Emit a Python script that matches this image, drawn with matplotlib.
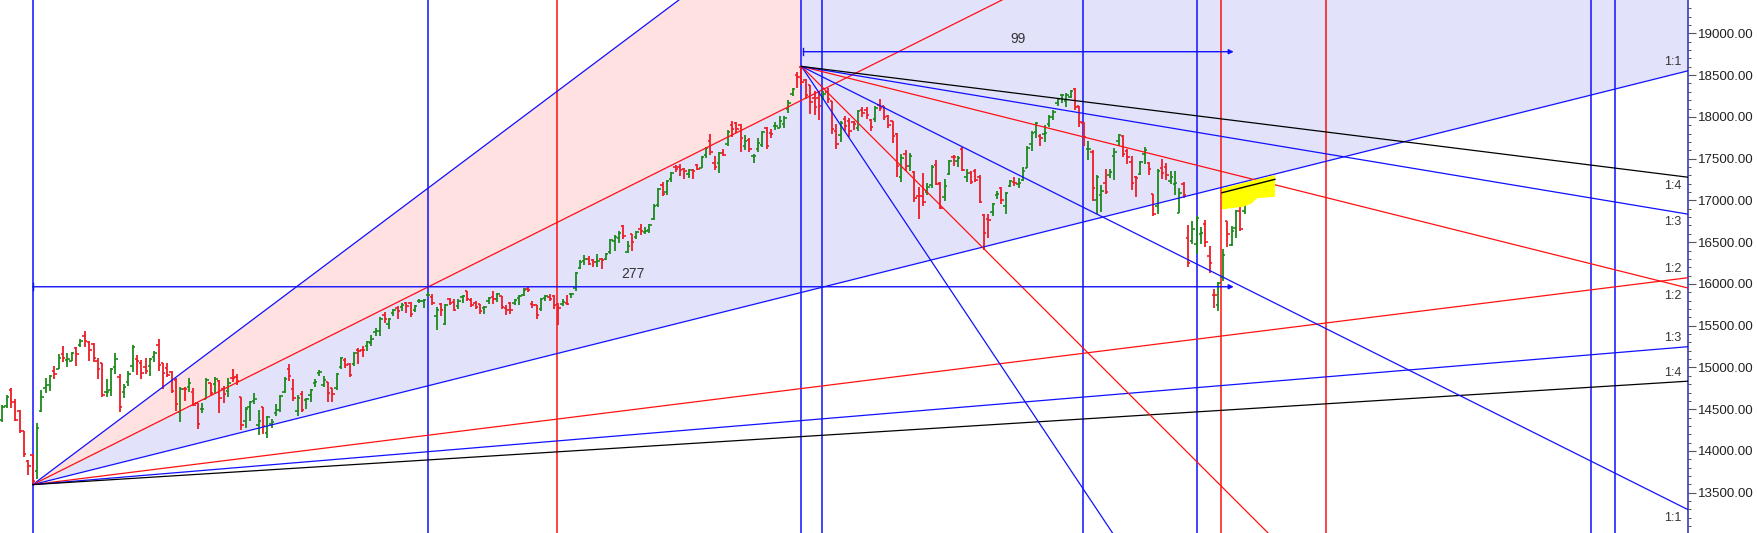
import numpy as np
import matplotlib.pyplot as plt
from matplotlib.ticker import MultipleLocator, FormatStrFormatter

plt.rcParams['font.family'] = ['Liberation Sans', 'DejaVu Sans']

# daily OHLC, first bar is 7 bars before the swing low (bar 0)
first_bar = -7
opens = [14371, 14539, 14730, 14590, 14477, 14237, 13880, 13946, 13759, 14481,
         14754, 14789, 14952, 14983, 15164, 15094, 15082, 15228, 15271, 15372,
         15308, 15284, 15074, 15058, 14707, 14730, 15006, 14889, 14702, 14831,
         15023, 15105, 15055, 15004, 15016, 15128, 15267, 15048, 14996, 14946,
         14855, 14471, 14737, 14768, 14712, 14570, 14506, 14628, 14811, 14798,
         14837, 14737, 14716, 14875, 14882, 14644, 14364, 14522, 14599, 14306,
         14526, 14219, 14326, 14449, 14493, 14710, 14979, 14747, 14481, 14688,
         14605, 14669, 14816, 14928, 14789, 14824, 14749, 14756, 15007, 15089,
         15042, 15042, 15211, 15210, 15257, 15291, 15422, 15437, 15629, 15520,
         15655, 15712, 15725, 15773, 15766, 15692, 15796, 15791, 15867, 15847,
         15612, 15757, 15525, 15814, 15783, 15737, 15839, 15916, 15807, 15776,
         15755, 15706, 15793, 15839, 15819, 15856, 15711, 15767, 15766, 15835,
         15872, 15944, 15755, 15746, 15701, 15831, 15847, 15860, 15761, 15763,
         15776, 15875, 15951, 16196, 16280, 16304, 16288, 16265, 16303, 16303,
         16385, 16518, 16545, 16691, 16382, 16592, 16561, 16655, 16627, 16643,
         16775, 16947, 17185, 17096, 17262, 17400, 17401, 17375, 17313, 17363,
         17420, 17388, 17540, 17710, 17444, 17450, 17570, 17670, 17897, 17932,
         17906, 17657, 17718, 17531, 17616, 17661, 17861, 17810, 17886, 17867,
         17915, 18097, 18273, 18500, 18602, 18439, 18383, 18230, 18230, 18217,
         18299, 18189, 17833, 17784, 17970, 17947, 17935, 17867, 18085, 18084,
         17967, 17977, 18141, 18128, 18011, 17949, 17796, 17281, 17550, 17417,
         17339, 17056, 17051, 17104, 17183, 17424, 17210, 17044, 17315, 17524,
         17476, 17619, 17283, 17324, 17348, 17277, 16824, 16773, 16865, 17067,
         17149, 16938, 17177, 17221, 17201, 17244, 17388, 17681, 17821, 17768,
         17797, 17913, 17997, 18170, 18257, 18185, 18235, 18337, 18129, 17921,
         17613, 17575, 17001, 17062, 17208, 17301, 17529, 17706, 17767, 17590,
         17456, 17279, 17320, 17554, 17451, 17077, 16933, 17392, 17398, 17236,
         17192, 16847, 17194, 16548, 16516, 16481, 16593, 16723, 16340, 15868,
         15747, 16078, 16758, 16467, 16664, 16878, 16876]
highs = [14546, 14666, 14753, 14619, 14491, 14237, 13896, 13966, 14336, 14731,
         14868, 14913, 15015, 15159, 15257, 15168, 15185, 15244, 15340, 15431,
         15314, 15293, 15111, 15058, 14860, 14991, 15177, 14920, 14806, 14956,
         15273, 15154, 15093, 15111, 15112, 15193, 15336, 15051, 15049, 14956,
         14875, 14771, 14763, 14878, 14752, 14575, 14572, 14877, 14813, 14883,
         14849, 14779, 14879, 14984, 14918, 14652, 14528, 14597, 14697, 14491,
         14527, 14424, 14384, 14557, 14667, 14890, 15044, 14856, 14673, 14723,
         14637, 14743, 14863, 14967, 14900, 14824, 14749, 14938, 15122, 15119,
         15052, 15189, 15228, 15256, 15320, 15384, 15469, 15607, 15660, 15597,
         15705, 15733, 15773, 15779, 15778, 15751, 15823, 15823, 15901, 15880,
         15718, 15769, 15765, 15835, 15821, 15821, 15870, 15916, 15835, 15800,
         15755, 15738, 15845, 15914, 15893, 15856, 15751, 15789, 15820, 15870,
         15952, 15962, 15800, 15749, 15833, 15862, 15880, 15863, 15768, 15817,
         15862, 15893, 16146, 16290, 16349, 16336, 16301, 16359, 16306, 16375,
         16543, 16589, 16628, 16701, 16509, 16592, 16639, 16712, 16683, 16722,
         16951, 17153, 17226, 17245, 17340, 17429, 17437, 17383, 17379, 17378,
         17438, 17532, 17645, 17793, 17536, 17578, 17610, 17843, 17947, 17943,
         17912, 17781, 17743, 17557, 17750, 17833, 17884, 17857, 17941, 18008,
         18009, 18197, 18351, 18543, 18604, 18458, 18384, 18315, 18311, 18311,
         18342, 18190, 17916, 17954, 18012, 17988, 17947, 18087, 18113, 18123,
         17977, 18124, 18210, 18132, 18023, 17949, 17806, 17553, 17600, 17564,
         17355, 17160, 17324, 17213, 17420, 17489, 17217, 17251, 17484, 17543,
         17534, 17640, 17376, 17351, 17376, 17298, 16840, 16837, 16971, 17118,
         17155, 17098, 17250, 17285, 17264, 17400, 17647, 17827, 17944, 17797,
         17905, 18017, 18082, 18228, 18272, 18286, 18321, 18350, 18129, 17944,
         17707, 17599, 17309, 17182, 17373, 17380, 17622, 17794, 17781, 17617,
         17536, 17294, 17477, 17640, 17454, 17077, 17375, 17490, 17442, 17351,
         17352, 17148, 17220, 16706, 16748, 16815, 16678, 16768, 16456, 15944,
         16028, 16418, 16758, 16694, 16888, 16928, 16987]
lows = [14350, 14517, 14517, 14357, 14218, 13929, 13713, 13597, 13662, 14469,
        14693, 14714, 14865, 14978, 15065, 15003, 15074, 15022, 15244, 15243,
        15080, 15064, 14857, 14646, 14652, 14659, 14920, 14468, 14632, 14776,
        14950, 14913, 14862, 14919, 14901, 15061, 14954, 14745, 14890, 14697,
        14478, 14350, 14597, 14707, 14535, 14264, 14459, 14617, 14670, 14693,
        14459, 14573, 14650, 14821, 14785, 14248, 14273, 14353, 14559, 14191,
        14207, 14151, 14273, 14421, 14461, 14694, 14838, 14601, 14416, 14461,
        14506, 14591, 14765, 14892, 14771, 14592, 14591, 14725, 14983, 14998,
        14885, 15013, 15044, 15128, 15197, 15260, 15375, 15374, 15528, 15459,
        15611, 15577, 15678, 15650, 15606, 15667, 15766, 15707, 15842, 15749,
        15450, 15616, 15505, 15749, 15673, 15702, 15772, 15792, 15724, 15705,
        15636, 15636, 15759, 15765, 15779, 15702, 15632, 15644, 15744, 15749,
        15855, 15899, 15707, 15578, 15676, 15799, 15796, 15702, 15514, 15737,
        15744, 15834, 15915, 16177, 16229, 16223, 16201, 16208, 16178, 16287,
        16361, 16395, 16495, 16535, 16376, 16395, 16536, 16589, 16593, 16611,
        16764, 16916, 17055, 17059, 17220, 17345, 17287, 17255, 17272, 17254,
        17368, 17386, 17511, 17548, 17361, 17326, 17532, 17646, 17764, 17802,
        17576, 17608, 17585, 17452, 17581, 17640, 17613, 17748, 17840, 17865,
        17864, 18050, 18248, 18351, 18377, 18209, 18034, 18024, 17968, 18198,
        18167, 17799, 17613, 17697, 17831, 17757, 17839, 17836, 17999, 17974,
        17836, 17940, 18071, 17958, 17863, 17688, 17280, 17216, 17355, 17351,
        16985, 16782, 16932, 17064, 17149, 17180, 16892, 16988, 17308, 17411,
        17405, 17355, 17225, 17192, 17217, 16967, 16410, 16554, 16819, 17019,
        16954, 16833, 17162, 17176, 17146, 17238, 17383, 17593, 17749, 17655,
        17704, 17879, 17965, 18125, 18170, 18120, 18228, 18085, 17884, 17648,
        17485, 16997, 16837, 16866, 17077, 17264, 17244, 17654, 17520, 17433,
        17119, 17044, 17307, 17433, 17303, 16810, 16839, 17257, 17248, 17193,
        17070, 16844, 17027, 16203, 16478, 16357, 16478, 16443, 16133, 15711,
        15671, 16029, 16447, 16448, 16555, 16633, 16837]
closes = [14521, 14644, 14590, 14371, 14238, 13967, 13817, 13635, 14281, 14647,
          14790, 14895, 14924, 15116, 15109, 15106, 15173, 15163, 15315, 15313,
          15209, 15119, 14982, 14676, 14708, 14982, 15097, 14529, 14762, 14920,
          15246, 15081, 14938, 14956, 15098, 15174, 15031, 14929, 14910, 14721,
          14558, 14744, 14736, 14814, 14549, 14324, 14507, 14845, 14690, 14867,
          14637, 14684, 14819, 14873, 14834, 14310, 14504, 14581, 14617, 14359,
          14296, 14406, 14341, 14485, 14653, 14865, 14894, 14631, 14634, 14496,
          14617, 14724, 14823, 14942, 14850, 14696, 14677, 14923, 15108, 15030,
          14906, 15175, 15197, 15208, 15301, 15337, 15435, 15582, 15574, 15576,
          15690, 15670, 15751, 15740, 15635, 15737, 15799, 15811, 15869, 15768,
          15691, 15683, 15746, 15772, 15687, 15790, 15860, 15814, 15748, 15721,
          15680, 15722, 15834, 15818, 15879, 15727, 15689, 15692, 15812, 15853,
          15924, 15923, 15752, 15632, 15824, 15856, 15824, 15746, 15709, 15778,
          15763, 15885, 16130, 16258, 16295, 16238, 16258, 16280, 16282, 16364,
          16529, 16563, 16614, 16569, 16451, 16496, 16625, 16634, 16636, 16705,
          16931, 17132, 17076, 17234, 17324, 17377, 17362, 17353, 17369, 17355,
          17380, 17519, 17630, 17585, 17396, 17562, 17546, 17823, 17853, 17855,
          17748, 17711, 17618, 17532, 17691, 17822, 17646, 17790, 17895, 17946,
          17991, 18162, 18339, 18477, 18419, 18267, 18179, 18115, 18125, 18268,
          18211, 17857, 17672, 17930, 17889, 17829, 17916, 18068, 18044, 18018,
          17874, 18102, 18109, 17999, 17898, 17765, 17417, 17503, 17415, 17536,
          17026, 17054, 16983, 17166, 17401, 17197, 16913, 17176, 17469, 17517,
          17511, 17368, 17324, 17221, 17248, 16985, 16614, 16771, 16955, 17072,
          17004, 17086, 17233, 17214, 17204, 17354, 17625, 17805, 17925, 17746,
          17812, 18003, 18056, 18212, 18258, 18256, 18309, 18113, 17938, 17757,
          17617, 17149, 17278, 17110, 17102, 17340, 17576, 17780, 17560, 17516,
          17214, 17266, 17464, 17606, 17375, 16843, 17352, 17322, 17304, 17276,
          17207, 17092, 17063, 16248, 16658, 16794, 16606, 16498, 16245, 15863,
          16013, 16345, 16594, 16630, 16871, 16663, 16975]

# gann fans: one from the swing low, one from the swing high
low_bar, low_price = 0, 13597
high_bar, high_price = 177, 18604
up_unit = 13.0
down_unit = 26.0
fan_ratios = [3, 2, 1, 1/2, 1/3, 1/4]
fan_colors = ['#1010ff', '#ff1010', '#1010ff', '#ff1010', '#1010ff', '#000000']
up_tags = ['', '', '1:1', '1:2', '1:3', '1:4']
down_tags = ['', '', '1:1', '1:2', '1:3', '1:4']

blue_vlines = [0, 90.9, 177, 181.7, 241.8, 268.0, 358.7, 364.3]
red_vlines = [120.7, 273.5, 297.8]

count_low = (0, 276.5, 15966, '277')
count_high = (177.4, 276.5, 18780, '99')

yellow_x = [273.8, 286.0, 286.0, 281.8, 280.7, 278.7, 273.8]
yellow_y = [17144, 17304, 17044, 17025, 16965, 16924, 16893]
black_mark_x = [273.8, 286.0]
black_mark_y = [17092, 17252]

x_min, x_max = -7.53, 381.1
y_min, y_max = 13018, 19399

fig = plt.figure(figsize=(17.58, 5.33), dpi=100)
ax = fig.add_axes([0, 0, 1688 / 1758, 1])
ax.set_xlim(x_min, x_max)
ax.set_ylim(y_min, y_max)

# shaded fan zones
p2 = low_price + 2 * up_unit * (high_bar - low_bar)
x3_top = low_bar + (y_max - low_price) / (3 * up_unit)
ax.fill([low_bar, x3_top, high_bar, high_bar], [low_price, y_max, y_max, p2],
        color='#ffe1e1', lw=0, zorder=0)
ax.fill([low_bar, high_bar, high_bar, x_max, x_max],
        [low_price, p2, y_max, y_max, low_price + up_unit * (x_max - low_bar)],
        color='#e2e2fb', lw=0, zorder=0)

for v in blue_vlines:
    ax.axvline(v, color='#1010ff', lw=1.1, zorder=2)
for v in red_vlines:
    ax.axvline(v, color='#ff1010', lw=1.1, zorder=2)

# price bars
bars = np.arange(first_bar, first_bar + len(closes))
colors = ['#1c8a1c' if c >= o else '#ee1c25' for o, c in zip(opens, closes)]
ax.vlines(bars, lows, highs, colors=colors, lw=1.3, zorder=3)
ax.hlines(opens, bars - 0.55, bars, colors=colors, lw=1.2, zorder=3)
ax.hlines(closes, bars, bars + 0.55, colors=colors, lw=1.2, zorder=3)

# fan lines and their end tags
for r, col, tag in zip(fan_ratios, fan_colors, up_tags):
    y_end = low_price + up_unit * r * (x_max - low_bar)
    ax.plot([low_bar, x_max], [low_price, y_end], color=col, lw=0.9, zorder=4)
    if tag:
        ax.annotate(tag, xy=(x_max, y_end), xytext=(-5, 6), textcoords='offset points',
                    ha='right', va='center', fontsize=9, color='#333333')
for r, col, tag in zip(fan_ratios, fan_colors, down_tags):
    y_end = high_price - down_unit * r * (x_max - high_bar)
    ax.plot([high_bar, x_max], [high_price, y_end], color=col, lw=0.9, zorder=4)
    if tag:
        ax.annotate(tag, xy=(x_max, y_end), xytext=(-5, -6), textcoords='offset points',
                    ha='right', va='center', fontsize=9, color='#333333')

# bar count measures
for x0, x1, yv, label in [count_low, count_high]:
    ax.annotate('', xy=(x1, yv), xytext=(x0, yv),
                arrowprops=dict(arrowstyle='-|>', color='#1010ff', lw=1.0,
                                mutation_scale=7, shrinkA=0, shrinkB=0), zorder=5)
    ax.plot([x0, x0], [yv - 40, yv + 40], color='#1010ff', lw=1.0, zorder=5)
    ax.text((x0 + x1) / 2, yv + 65, label, ha='center', va='bottom',
            fontsize=10, color='#333333')

ax.fill(yellow_x, yellow_y, color='#ffff00', lw=0, zorder=5)
ax.plot(black_mark_x, black_mark_y, color='#000000', lw=1.0, zorder=6)

for s in ['left', 'top', 'bottom']:
    ax.spines[s].set_visible(False)
ax.spines['right'].set_color('#3a3ab8')
ax.spines['right'].set_linewidth(1.2)
ax.set_xticks([])
ax.yaxis.tick_right()
ax.yaxis.set_major_locator(MultipleLocator(500))
ax.yaxis.set_minor_locator(MultipleLocator(100))
ax.yaxis.set_major_formatter(FormatStrFormatter('%.2f'))
ax.tick_params(axis='y', which='major', length=5.8, width=0.8, color='#555555',
               pad=1.5, labelsize=9.6, labelcolor='#222222')
ax.tick_params(axis='y', which='minor', length=2.5, width=0.7, color='#555555')

fig.savefig('out.png', dpi=100)
